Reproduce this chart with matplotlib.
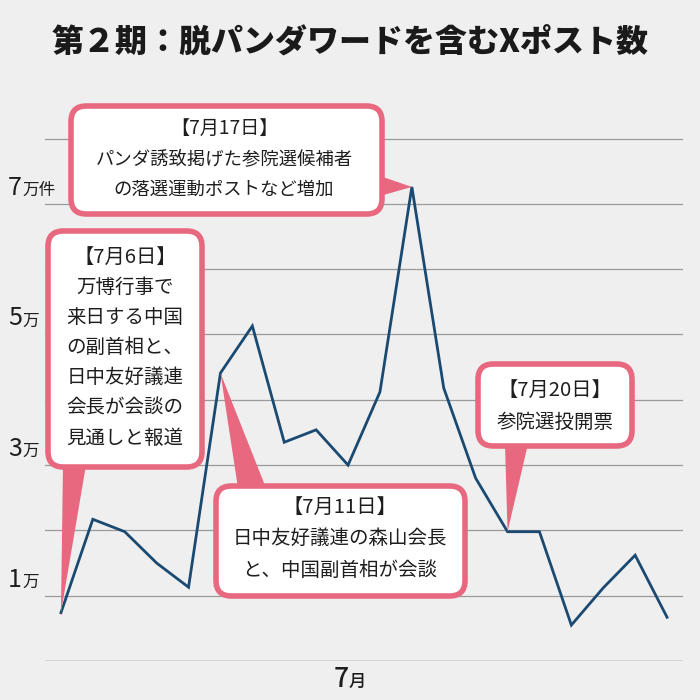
import matplotlib
matplotlib.use("Agg")
import matplotlib.pyplot as plt
import matplotlib.transforms as mtransforms
from matplotlib.patches import FancyBboxPatch, Polygon

plt.rcParams['font.family'] = ['Noto Sans CJK JP', 'DejaVu Sans']

# ---- data (万件, 7/6 - 7/25) ----
days = list(range(6, 26))
posts = [0.74, 2.17, 1.98, 1.50, 1.13, 4.41, 5.13, 3.35, 3.54, 3.00,
         4.12, 7.26, 4.18, 2.80, 1.98, 1.98, 0.55, 1.12, 1.62, 0.67]
ytick_vals = [1, 3, 5, 7]
ytick_units = ['万', '万', '万', '万件']
title = '第２期：脱パンダワードを含むXポスト数'

notes = [
    (17, ['【7月17日】', 'パンダ誘致掲げた参院選候補者', 'の落選運動ポストなど増加']),
    (6, ['【7月6日】', '万博行事で', '来日する中国', 'の副首相と、', '日中友好議連', '会長が会談の', '見通しと報道']),
    (11, ['【7月11日】', '日中友好議連の森山会長', 'と、中国副首相が会談']),
    (20, ['【7月20日】', '参院選投開票']),
]

BG = '#efefef'
PINK = '#e8687f'
NAVY = '#1a4a72'
INK = '#1e1e1e'
W = H = 700


def fx(x):
    return x / W


def fy(y):
    return 1 - y / H


fig = plt.figure(figsize=(7, 7), dpi=100, facecolor=BG)
ax = fig.add_axes([fx(45), fy(661), fx(683) - fx(45), fy(119) - fy(661)])
ax.set_facecolor(BG)

x = list(range(len(days)))
ax.plot(x, posts, color=NAVY, lw=2.0, zorder=3, solid_joinstyle='miter')
ax.set_xlim(-0.5, 19.5)
ax.set_ylim(0, 8.3)
for v in range(1, 9):
    ax.axhline(v, color='#9a9a9a', lw=0.9, zorder=1)
ax.axhline(0, color='#6a6a6a', lw=1.0, zorder=1)
for s in ax.spines.values():
    s.set_visible(False)
ax.set_xticks([])
ax.set_yticks([])

# y labels: big digit + small unit, sitting just above the grid line
tr = mtransforms.blended_transform_factory(fig.transFigure, ax.transData)
tr = mtransforms.offset_copy(tr, fig=fig, x=0, y=9, units='dots')
for v, u in zip(ytick_vals, ytick_units):
    fig.text(fx(22), v, str(v), transform=tr, ha='right', va='baseline',
             fontsize=18, color=INK)
    fig.text(fx(22.5), v, u, transform=tr, ha='left', va='baseline',
             fontsize=12, color=INK)

# x label
fig.text(fx(348.5), fy(687), '7', ha='right', va='baseline', fontsize=19,
         color=INK, fontweight='medium')
fig.text(fx(349), fy(687), '月', ha='left', va='baseline', fontsize=12.5,
         color=INK, fontweight='medium')

fig.text(0.5, fy(42), title, ha='center', va='center', fontsize=23,
         fontweight='black', color='#1a1a1a')

# callouts: box (left, top, right, bottom), pointer base, line layout
layout = {
    17: dict(box=(71, 106, 382, 214), base=[(380, 176), (380, 196)],
             cx=224, y0=128, dy=31, fs=13.2),
    6: dict(box=(48, 231, 202, 467), base=[(63, 465), (86, 465)],
            cx=125, y0=257, dy=30.2, fs=14),
    11: dict(box=(216, 486, 465, 596), base=[(238, 488), (266, 488)],
             cx=340, y0=507, dy=31.5, fs=14),
    20: dict(box=(478, 364, 632, 446), base=[(505, 444), (528, 444)],
             cx=555, y0=390, dy=32, fs=14),
}

for day, lines in notes:
    L = layout[day]
    i = days.index(day)
    tip = ax.transData.transform((i, posts[i]))
    tipf = fig.transFigure.inverted().transform(tip)
    pts = [(fx(a), fy(b)) for a, b in L['base']] + [tuple(tipf)]
    fig.patches.append(Polygon(pts, closed=True, transform=fig.transFigure,
                               facecolor=PINK, edgecolor='none', zorder=4))
    l, t, r, b = L['box']
    fig.patches.append(FancyBboxPatch(
        (fx(l), fy(b)), fx(r) - fx(l), fy(t) - fy(b),
        boxstyle='round,pad=0,rounding_size=0.022', transform=fig.transFigure,
        facecolor='white', edgecolor=PINK, lw=4, zorder=5))
    for k, s in enumerate(lines):
        fs = L['fs'] + (0.6 if k == 0 else 0)
        fig.text(fx(L['cx']), fy(L['y0'] + k * L['dy']), s, ha='center',
                 va='center', fontsize=fs, color=INK, zorder=6)

fig.savefig('out.png', dpi=100, facecolor=BG)
